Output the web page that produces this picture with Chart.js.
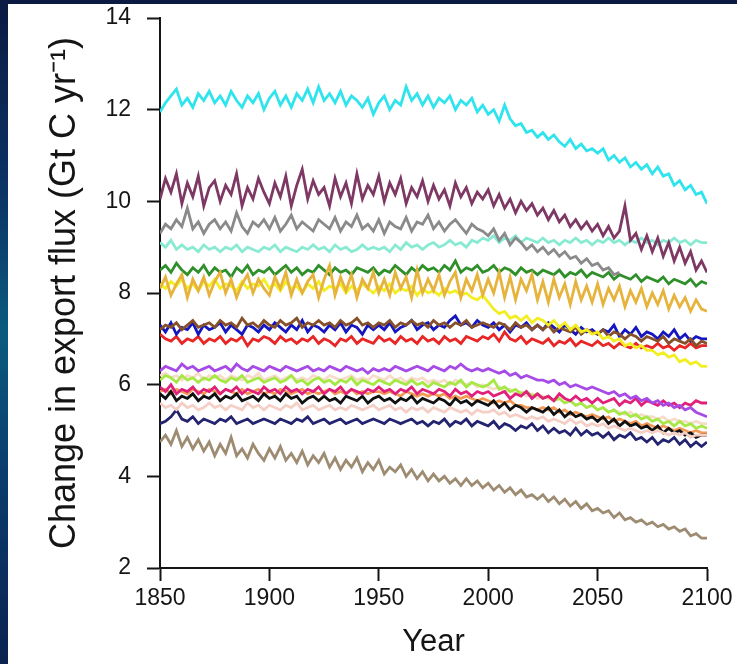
<!DOCTYPE html>
<html>
<head>
<meta charset="utf-8">
<script src="https://cdn.jsdelivr.net/npm/chart.js@4"></script>
<style>
  html, body { margin: 0; padding: 0; }
  body {
    width: 737px; height: 664px; overflow: hidden; position: relative;
    background: linear-gradient(to bottom, #0a1a42 0%, #0b3566 30%, #0b5b7e 50%, #0a3e6e 70%, #0a2250 100%);
  }
  #panel { position: absolute; left: 8px; top: 4px; width: 729px; height: 660px; background: #fff; }
</style>
</head>
<body>
<div id="panel"><canvas id="fluxChart" width="729" height="660"></canvas></div>
<script>
// one point every 2.5 years
const years = [
  1850, 1852.5, 1855, 1857.5, 1860, 1862.5, 1865, 1867.5, 1870, 1872.5,
  1875, 1877.5, 1880, 1882.5, 1885, 1887.5, 1890, 1892.5, 1895, 1897.5,
  1900, 1902.5, 1905, 1907.5, 1910, 1912.5, 1915, 1917.5, 1920, 1922.5,
  1925, 1927.5, 1930, 1932.5, 1935, 1937.5, 1940, 1942.5, 1945, 1947.5,
  1950, 1952.5, 1955, 1957.5, 1960, 1962.5, 1965, 1967.5, 1970, 1972.5,
  1975, 1977.5, 1980, 1982.5, 1985, 1987.5, 1990, 1992.5, 1995, 1997.5,
  2000, 2002.5, 2005, 2007.5, 2010, 2012.5, 2015, 2017.5, 2020, 2022.5,
  2025, 2027.5, 2030, 2032.5, 2035, 2037.5, 2040, 2042.5, 2045, 2047.5,
  2050, 2052.5, 2055, 2057.5, 2060, 2062.5, 2065, 2067.5, 2070, 2072.5,
  2075, 2077.5, 2080, 2082.5, 2085, 2087.5, 2090, 2092.5, 2095, 2097.5,
  2100];
const xTicks = [1850, 1900, 1950, 2000, 2050, 2100];
const yTicks = [2, 4, 6, 8, 10, 12, 14];

// export flux per model (Gt C / yr)
const cyan = [
  11.95, 12.15, 12.3, 12.45, 12.1, 12.25, 12.05, 12.35, 12.2, 12.4,
  12.15, 12.3, 12.1, 12.4, 12.2, 12.05, 12.3, 12.15, 12.35, 12.0,
  12.25, 12.4, 12.1, 12.3, 12.05, 12.35, 12.2, 12.45, 12.15, 12.5,
  12.2, 12.35, 12.15, 12.4, 12.1, 12.3, 12.2, 12.05, 12.25, 11.9,
  12.15, 12.3, 12.0, 12.2, 12.1, 12.5, 12.2, 12.35, 12.1, 12.3,
  12.05, 12.25, 12.15, 12.3, 12.0, 12.2, 12.1, 12.25, 11.95, 12.1,
  11.9, 12.0, 11.75, 12.1, 11.8, 11.65, 11.7, 11.5, 11.55, 11.4,
  11.5, 11.35, 11.45, 11.3, 11.2, 11.35, 11.15, 11.25, 11.1, 11.15,
  11.05, 11.15, 10.9, 11.0, 10.85, 10.95, 10.75, 10.85, 10.7, 10.8,
  10.6, 10.75, 10.55, 10.6, 10.35, 10.45, 10.25, 10.35, 10.15, 10.2,
  9.95];
const maroon = [
  10.05, 10.5, 10.2, 10.6, 9.95, 10.4, 10.1, 10.55, 9.9, 10.3,
  10.45, 10.0, 10.35, 10.15, 10.6, 9.9, 10.3, 10.05, 10.5, 10.2,
  9.95, 10.4, 10.1, 10.55, 9.9, 10.35, 10.7, 10.05, 10.45, 10.15,
  10.3, 9.9, 10.5, 10.1, 10.4, 9.95, 10.6, 10.05, 10.35, 10.15,
  10.55, 10.0, 10.4, 10.15, 10.5, 9.95, 10.3, 10.1, 10.45, 10.0,
  10.35, 10.05, 10.25, 9.9, 10.4, 10.1, 10.3, 9.95, 10.2, 10.05,
  10.25, 9.9, 10.15, 9.85, 10.05, 9.75, 10.0, 9.8, 9.95, 9.7,
  9.85, 9.6, 9.8, 9.55, 9.7, 9.45, 9.6, 9.4, 9.55, 9.35,
  9.5, 9.25, 9.45, 9.2, 9.35, 9.9, 9.15, 9.3, 8.95, 9.25,
  8.9, 9.2, 8.8, 9.1, 8.7, 9.0, 8.65, 8.9, 8.5, 8.7,
  8.45];
const grey = [
  9.3, 9.5, 9.4, 9.6, 9.45, 9.85, 9.4, 9.55, 9.3, 9.5,
  9.6, 9.4, 9.55, 9.35, 9.75, 9.45, 9.3, 9.55, 9.45, 9.6,
  9.4, 9.65, 9.35, 9.5, 9.7, 9.4, 9.55, 9.45, 9.35, 9.6,
  9.5, 9.4, 9.65, 9.35, 9.55, 9.45, 9.7, 9.4, 9.5, 9.35,
  9.6, 9.3, 9.55, 9.45, 9.4, 9.65, 9.35, 9.55, 9.5, 9.7,
  9.4, 9.55, 9.35, 9.5, 9.6, 9.45, 9.3, 9.5, 9.4, 9.35,
  9.25, 9.4, 9.15, 9.3, 9.05, 9.2, 9.1, 8.95, 9.05, 8.9,
  9.0, 8.85, 8.95, 8.8, 8.9, 8.75, 8.8, 8.65, 8.75, 8.6,
  8.65, 8.5, 8.55, 8.4, 8.45, null, null, null, null, null,
  null, null, null, null, null, null, null, null, null, null,
  null];
const aqua = [
  9.1, 9.0, 9.15, 8.95, 9.05, 8.95, 9.0, 8.9, 9.05, 8.95,
  9.0, 8.9, 9.0, 8.95, 9.05, 8.9, 9.0, 8.95, 8.9, 9.0,
  8.95, 9.05, 8.9, 9.0, 8.95, 8.9, 9.0, 8.95, 9.05, 8.95,
  9.0, 8.9, 9.05, 8.95, 9.0, 8.9, 8.95, 9.05, 8.95, 9.0,
  8.95, 9.0, 8.9, 9.05, 8.95, 9.1, 9.0, 9.05, 8.95, 9.05,
  9.1, 9.0, 9.05, 9.15, 9.05, 9.1, 9.0, 9.15, 9.1, 9.2,
  9.15, 9.25, 9.1, 9.2, 9.15, 9.25, 9.1, 9.2, 9.15, 9.1,
  9.2, 9.1, 9.15, 9.05, 9.15, 9.1, 9.2, 9.1, 9.15, 9.05,
  9.15, 9.1, 9.2, 9.1, 9.15, 9.05, 9.15, 9.1, 9.2, 9.1,
  9.15, 9.05, 9.15, 9.1, 9.2, 9.1, 9.15, 9.05, 9.15, 9.1,
  9.1];
const green = [
  8.5, 8.6, 8.45, 8.65, 8.5, 8.4, 8.55, 8.45, 8.6, 8.4,
  8.55, 8.45, 8.5, 8.35, 8.55, 8.45, 8.6, 8.4, 8.5, 8.45,
  8.55, 8.4, 8.5, 8.6, 8.45, 8.55, 8.4, 8.5, 8.45, 8.6,
  8.5, 8.4, 8.55, 8.45, 8.5, 8.4, 8.55, 8.5, 8.45, 8.55,
  8.4, 8.5, 8.45, 8.6, 8.5, 8.4, 8.55, 8.45, 8.6, 8.5,
  8.55, 8.45, 8.6, 8.5, 8.7, 8.45, 8.55, 8.5, 8.6, 8.45,
  8.5, 8.6, 8.45, 8.55, 8.5, 8.4, 8.55, 8.45, 8.5, 8.4,
  8.5, 8.45, 8.4, 8.5, 8.35, 8.45, 8.4, 8.5, 8.35, 8.45,
  8.4, 8.35, 8.45, 8.3, 8.4, 8.35, 8.3, 8.4, 8.25, 8.35,
  8.3, 8.25, 8.35, 8.2, 8.3, 8.25, 8.2, 8.3, 8.15, 8.25,
  8.2];
const gold = [
  8.1, 8.35, 7.95, 8.2, 8.4, 7.9, 8.3, 8.05, 8.35, 7.95,
  8.25, 8.45, 8.0, 8.3, 7.9, 8.2, 8.4, 8.0, 8.3, 8.1,
  7.95, 8.35, 8.1, 8.45, 7.95, 8.3, 8.0, 8.25, 8.4, 7.9,
  8.3, 8.6, 7.95, 8.35, 8.05, 8.4, 7.9, 8.3, 8.1, 8.45,
  8.0, 8.3, 7.95, 8.45, 8.1, 8.35, 7.9, 8.5, 8.0, 8.3,
  8.05, 8.4, 7.95, 8.25, 8.45, 7.9, 8.3, 8.05, 8.4, 7.95,
  8.3, 8.0, 8.45, 7.9, 8.35, 7.85, 8.3, 8.05, 8.4, 7.85,
  8.25, 7.8, 8.3, 7.9, 8.2, 7.75, 8.25, 7.85, 8.15, 7.8,
  8.2, 7.75, 8.1, 7.85, 8.15, 7.7, 8.05, 7.8, 8.1, 7.7,
  8.0, 7.75, 8.05, 7.65, 7.95, 7.7, 7.9, 7.6, 7.85, 7.65,
  7.6];
const yellow = [
  8.2, 8.1, 8.25, 8.15, 8.3, 8.1, 8.2, 8.05, 8.25, 8.15,
  8.3, 8.1, 8.2, 8.15, 8.05, 8.25, 8.1, 8.2, 8.15, 8.3,
  8.1, 8.2, 8.05, 8.25, 8.1, 8.15, 8.0, 8.2, 8.1, 8.25,
  8.05, 8.15, 8.1, 8.2, 8.0, 8.15, 8.05, 8.2, 8.1, 8.0,
  8.15, 8.05, 8.2, 8.0, 8.1, 8.05, 8.15, 7.95, 8.1, 8.0,
  8.05, 7.95, 8.1, 8.0, 8.05, 7.95, 8.0, 7.9, 7.85, 7.95,
  7.8, 7.65, 7.55, 7.6, 7.45, 7.5, 7.4, 7.5, 7.35, 7.45,
  7.4, 7.3, 7.4, 7.25, 7.35, 7.2, 7.3, 7.15, 7.2, 7.1,
  7.15, 7.0, 7.05, 6.95, 7.0, 6.85, 6.9, 6.8, 6.85, 6.75,
  6.75, 6.65, 6.7, 6.6, 6.65, 6.5, 6.55, 6.45, 6.5, 6.4,
  6.4];
const blue = [
  7.3, 7.15, 7.35, 7.1, 7.25, 7.2, 7.35, 7.1, 7.3, 7.2,
  7.25, 7.35, 7.15, 7.3, 7.2, 7.1, 7.3, 7.25, 7.15, 7.3,
  7.2, 7.35, 7.25, 7.15, 7.3, 7.2, 7.4, 7.15, 7.3, 7.25,
  7.15, 7.3, 7.2, 7.35, 7.15, 7.3, 7.25, 7.1, 7.3, 7.2,
  7.3, 7.2, 7.35, 7.15, 7.25, 7.3, 7.4, 7.2, 7.3, 7.35,
  7.2, 7.3, 7.25, 7.4, 7.5, 7.3, 7.35, 7.25, 7.4, 7.3,
  7.25, 7.35, 7.2, 7.3, 7.15, 7.3, 7.25, 7.35, 7.2, 7.3,
  7.2, 7.35, 7.25, 7.15, 7.3, 7.2, 7.1, 7.25, 7.15, 7.2,
  7.1, 7.2, 7.15, 7.3, 7.05, 7.2, 7.1, 7.25, 7.05, 7.15,
  7.1, 7.0, 7.15, 7.05, 7.2, 7.0, 7.1, 6.95, 7.05, 7.0,
  7.0];
const brown = [
  7.2, 7.3, 7.25, 7.35, 7.2, 7.3, 7.4, 7.25, 7.3, 7.35,
  7.25, 7.4, 7.3, 7.35, 7.25, 7.45, 7.3, 7.35, 7.25, 7.4,
  7.3, 7.25, 7.4, 7.3, 7.35, 7.45, 7.25, 7.35, 7.3, 7.4,
  7.3, 7.35, 7.25, 7.4, 7.3, 7.35, 7.45, 7.3, 7.35, 7.25,
  7.35, 7.3, 7.4, 7.25, 7.35, 7.3, 7.4, 7.3, 7.35, 7.25,
  7.4, 7.3, 7.35, 7.25, 7.35, 7.3, 7.4, 7.25, 7.3, 7.35,
  7.3, 7.25, 7.35, 7.3, 7.2, 7.35, 7.25, 7.3, 7.2, 7.3,
  7.2, 7.3, 7.15, 7.25, 7.2, 7.15, 7.25, 7.1, 7.2, 7.15,
  7.1, 7.2, 7.05, 7.15, 7.1, 7.0, 7.1, 7.05, 6.95, 7.05,
  7.0, 6.95, 7.05, 6.9, 7.0, 6.95, 6.9, 7.0, 6.85, 6.95,
  6.9];
const red = [
  7.1, 7.0, 6.95, 7.05, 6.9, 7.0, 6.95, 7.05, 6.9, 7.0,
  6.95, 7.05, 6.9, 7.0, 6.95, 7.05, 6.85, 7.0, 6.95, 7.05,
  7.0, 6.9, 7.05, 6.95, 7.0, 6.9, 7.0, 6.95, 7.05, 6.9,
  7.0, 6.95, 6.85, 7.0, 6.95, 7.05, 6.9, 7.0, 6.95, 6.9,
  7.05, 6.95, 7.0, 6.9, 7.05, 6.95, 7.0, 6.9, 7.05, 6.95,
  7.0, 6.9, 7.05, 6.95, 7.0, 6.9, 7.05, 7.0, 6.95, 7.05,
  7.0, 7.1, 6.95, 7.15, 7.0, 6.95, 7.05, 6.9, 7.0, 6.95,
  6.9, 7.0, 6.85, 6.95, 6.9, 7.0, 6.85, 6.95, 6.9, 6.85,
  6.95, 6.85, 6.9, 6.8, 6.9, 6.85, 6.8, 6.9, 6.8, 6.85,
  6.8, 6.9, 6.8, 6.85, 6.75, 6.85, 6.8, 6.9, 6.8, 6.85,
  6.85];
const purple = [
  6.3, 6.4, 6.35, 6.3, 6.45, 6.35, 6.4, 6.3, 6.35, 6.4,
  6.3, 6.35, 6.4, 6.3, 6.45, 6.35, 6.3, 6.4, 6.35, 6.3,
  6.4, 6.35, 6.3, 6.4, 6.35, 6.3, 6.35, 6.4, 6.3, 6.35,
  6.3, 6.4, 6.35, 6.3, 6.4, 6.35, 6.3, 6.35, 6.25, 6.35,
  6.3, 6.35, 6.3, 6.4, 6.35, 6.3, 6.35, 6.4, 6.35, 6.3,
  6.4, 6.35, 6.3, 6.4, 6.35, 6.45, 6.35, 6.3, 6.35, 6.3,
  6.35, 6.3, 6.25, 6.3, 6.2, 6.25, 6.15, 6.2, 6.15, 6.1,
  6.1, 6.05, 6.1, 6.0, 6.05, 5.95, 6.0, 5.95, 5.9, 5.95,
  5.9, 5.85, 5.8, 5.85, 5.75, 5.8, 5.7, 5.75, 5.65, 5.7,
  5.6, 5.65, 5.55, 5.6, 5.5, 5.55, 5.45, 5.5, 5.4, 5.35,
  5.3];
const limeGreen = [
  6.1, 6.2, 6.15, 6.05, 6.2, 6.1, 6.15, 6.05, 6.15, 6.1,
  6.2, 6.1, 6.05, 6.15, 6.1, 6.2, 6.05, 6.1, 6.15, 6.05,
  6.1, 6.15, 6.05, 6.1, 6.2, 6.05, 6.1, 6.0, 6.1, 6.15,
  6.05, 6.1, 6.0, 6.1, 6.05, 6.15, 6.0, 6.1, 6.05, 6.0,
  6.1, 6.05, 6.0, 6.1, 6.05, 6.0, 6.1, 6.0, 6.05, 5.95,
  6.05, 6.0, 5.95, 6.05, 6.0, 6.1, 5.95, 6.05, 6.0, 5.95,
  6.0, 6.1, 5.9, 5.95, 5.85, 5.9, 5.8, 5.85, 5.75, 5.8,
  5.7, 5.75, 5.65, 5.7, 5.6, 5.65, 5.55, 5.6, 5.5, 5.55,
  5.45, 5.5, 5.4, 5.45, 5.35, 5.4, 5.3, 5.35, 5.25, 5.3,
  5.2, 5.25, 5.15, 5.2, 5.1, 5.2, 5.1, 5.15, 5.05, 5.1,
  5.05];
const pink = [
  5.95, 5.85, 6.0, 5.8, 5.9, 5.85, 5.95, 5.8, 5.9, 5.85,
  5.95, 5.8, 5.9, 5.85, 5.95, 5.8, 5.9, 5.85, 5.8, 5.95,
  5.85, 5.9, 5.8, 5.95, 5.85, 5.9, 5.8, 5.9, 5.85, 5.95,
  5.8, 5.9, 5.85, 5.95, 5.8, 5.9, 5.85, 5.8, 5.9, 5.85,
  5.95, 5.85, 5.9, 5.8, 5.9, 5.85, 5.95, 5.8, 5.9, 5.85,
  5.8, 5.9, 5.85, 5.75, 5.9, 5.8, 5.85, 5.75, 5.85, 5.8,
  5.85, 5.75, 5.8, 5.85, 5.7, 5.8, 5.75, 5.85, 5.7, 5.8,
  5.7, 5.75, 5.65, 5.8, 5.7, 5.65, 5.75, 5.65, 5.7, 5.6,
  5.7, 5.6, 5.65, 5.7, 5.55, 5.65, 5.6, 5.7, 5.55, 5.65,
  5.6, 5.55, 5.65, 5.55, 5.6, 5.5, 5.6, 5.55, 5.65, 5.6,
  5.6];
const black = [
  5.8, 5.7, 5.85, 5.65, 5.75, 5.7, 5.8, 5.65, 5.75, 5.7,
  5.8, 5.65, 5.75, 5.7, 5.8, 5.65, 5.7, 5.75, 5.65, 5.8,
  5.7, 5.75, 5.65, 5.8, 5.7, 5.75, 5.6, 5.7, 5.75, 5.65,
  5.75, 5.65, 5.7, 5.6, 5.75, 5.7, 5.65, 5.75, 5.6, 5.7,
  5.75, 5.65, 5.7, 5.6, 5.7, 5.65, 5.75, 5.6, 5.7, 5.65,
  5.6, 5.7, 5.65, 5.55, 5.7, 5.6, 5.65, 5.55, 5.65, 5.6,
  5.55, 5.65, 5.5, 5.6, 5.45, 5.55, 5.5, 5.4, 5.5, 5.45,
  5.4, 5.5, 5.35, 5.45, 5.3, 5.4, 5.3, 5.35, 5.25, 5.3,
  5.2, 5.3, 5.15, 5.25, 5.1, 5.2, 5.1, 5.15, 5.05, 5.1,
  5.0, 5.1, 4.95, 5.05, 4.95, 5.0, 4.9, 4.95, 4.85, 4.9,
  4.9];
const palePink = [
  5.6, 5.5, 5.55, 5.45, 5.6, 5.5, 5.55, 5.45, 5.5, 5.6,
  5.5, 5.55, 5.45, 5.55, 5.5, 5.45, 5.6, 5.5, 5.55, 5.45,
  5.55, 5.5, 5.45, 5.55, 5.5, 5.6, 5.45, 5.5, 5.55, 5.45,
  5.5, 5.55, 5.45, 5.5, 5.45, 5.55, 5.5, 5.45, 5.5, 5.55,
  5.45, 5.5, 5.55, 5.45, 5.5, 5.4, 5.5, 5.45, 5.5, 5.4,
  5.5, 5.45, 5.4, 5.5, 5.45, 5.4, 5.45, 5.35, 5.45, 5.4,
  5.4, 5.45, 5.35, 5.4, 5.3, 5.35, 5.3, 5.25, 5.3, 5.25,
  5.3, 5.2, 5.25, 5.2, 5.15, 5.25, 5.15, 5.2, 5.1, 5.15,
  5.1, 5.15, 5.05, 5.1, 5.05, 5.0, 5.05, 5.0, 4.95, 5.0,
  4.95, 5.0, 4.95, 4.9, 4.95, 4.9, 4.95, 4.85, 4.9, 4.9,
  4.9];
const peach = [
  6.2, 6.25, 6.15, 6.2, 6.1, 6.2, 6.15, 6.25, 6.1, 6.2,
  6.15, 6.2, 6.1, 6.2, 6.15, 6.1, 6.2, 6.15, 6.25, 6.1,
  6.15, 6.2, 6.1, 6.15, 6.2, 6.1, 6.15, 6.1, 6.2, 6.15,
  6.1, 6.2, 6.15, 6.1, 6.15, 6.2, 6.1, 6.15, 6.1, 6.2,
  6.15, 6.1, 6.2, 6.1, 6.15, 6.05, 6.15, 6.1, 6.15, 6.05,
  6.1, 6.05, 6.1, 6.0, 6.1, 6.05, 6.0, 6.05, 5.95, 6.0,
  5.95, 5.9, 5.95, 5.85, 5.9, 5.8, 5.85, 5.75, 5.8, 5.7,
  5.75, 5.7, 5.65, 5.7, 5.6, 5.65, 5.55, 5.6, 5.5, 5.55,
  5.45, 5.5, 5.4, 5.45, 5.4, 5.35, 5.4, 5.3, 5.35, 5.3,
  5.3, 5.25, 5.3, 5.2, 5.25, 5.2, 5.2, 5.15, 5.2, 5.15,
  5.15];
const orange = [
  5.85, 5.9, 5.8, 5.9, 5.85, 5.8, 5.9, 5.85, 5.8, 5.9,
  5.85, 5.8, 5.9, 5.85, 5.8, 5.9, 5.8, 5.85, 5.9, 5.8,
  5.85, 5.8, 5.9, 5.85, 5.8, 5.85, 5.9, 5.8, 5.85, 5.8,
  5.85, 5.9, 5.8, 5.85, 5.8, 5.9, 5.8, 5.85, 5.8, 5.85,
  5.85, 5.8, 5.85, 5.8, 5.75, 5.85, 5.8, 5.75, 5.8, 5.75,
  5.8, 5.75, 5.8, 5.7, 5.75, 5.7, 5.75, 5.7, 5.65, 5.7,
  5.65, 5.6, 5.65, 5.6, 5.65, 5.55, 5.55, 5.5, 5.5, 5.45,
  5.5, 5.45, 5.5, 5.4, 5.45, 5.35, 5.4, 5.35, 5.3, 5.35,
  5.3, 5.25, 5.3, 5.2, 5.25, 5.2, 5.15, 5.2, 5.1, 5.15,
  5.1, 5.05, 5.1, 5.05, 5.0, 5.05, 5.0, 4.95, 5.0, 4.95,
  4.95];
const navy = [
  5.15, 5.2, 5.3, 5.45, 5.25, 5.2, 5.3, 5.15, 5.25, 5.2,
  5.15, 5.25, 5.2, 5.3, 5.15, 5.2, 5.25, 5.15, 5.2, 5.25,
  5.2, 5.15, 5.25, 5.2, 5.15, 5.25, 5.2, 5.3, 5.15, 5.2,
  5.25, 5.15, 5.2, 5.25, 5.15, 5.2, 5.25, 5.15, 5.2, 5.25,
  5.2, 5.15, 5.25, 5.2, 5.15, 5.2, 5.25, 5.15, 5.2, 5.1,
  5.2, 5.15, 5.25, 5.1, 5.2, 5.15, 5.25, 5.1, 5.2, 5.15,
  5.1, 5.2, 5.05, 5.15, 5.1, 5.0, 5.1, 5.05, 5.15, 5.0,
  5.1, 4.95, 5.05, 4.95, 5.0, 4.9, 5.05, 4.9, 5.0, 4.9,
  4.95, 4.85, 4.95, 4.8, 4.9, 4.85, 4.95, 4.8, 4.85, 4.75,
  4.85, 4.7, 4.8, 4.75, 4.85, 4.7, 4.8, 4.65, 4.75, 4.65,
  4.75];
const tan = [
  4.75, 4.9, 4.7, 5.0, 4.65, 4.85, 4.6, 4.8, 4.55, 4.75,
  4.45, 4.7, 4.5, 4.85, 4.45, 4.6, 4.4, 4.7, 4.5, 4.35,
  4.6, 4.4, 4.65, 4.35, 4.5, 4.3, 4.55, 4.25, 4.45, 4.3,
  4.5, 4.2, 4.4, 4.15, 4.35, 4.2, 4.4, 4.1, 4.3, 4.15,
  4.35, 4.05, 4.2, 4.1, 4.25, 4.0, 4.15, 3.95, 4.1, 3.9,
  4.05, 3.9, 4.0, 3.85, 3.95, 3.8, 3.95, 3.8, 3.9, 3.75,
  3.85, 3.7, 3.8, 3.65, 3.75, 3.6, 3.7, 3.55, 3.6, 3.5,
  3.6, 3.45, 3.55, 3.4, 3.5, 3.35, 3.45, 3.3, 3.4, 3.25,
  3.3, 3.2, 3.25, 3.1, 3.2, 3.05, 3.1, 3.0, 3.05, 2.95,
  3.0, 2.9, 2.95, 2.85, 2.9, 2.8, 2.85, 2.7, 2.75, 2.65,
  2.65];

// first entry is drawn on top
const series = [
  { name: 'gold', values: gold, color: '#e6b43c' },
  { name: 'cyan', values: cyan, color: '#2fe4ec' },
  { name: 'maroon', values: maroon, color: '#7d3863' },
  { name: 'grey', values: grey, color: '#8a8a8a' },
  { name: 'aqua', values: aqua, color: '#88ead3' },
  { name: 'green', values: green, color: '#2f8f2a' },
  { name: 'yellow', values: yellow, color: '#f3ee22' },
  { name: 'brown', values: brown, color: '#86502a' },
  { name: 'blue', values: blue, color: '#1616c0' },
  { name: 'red', values: red, color: '#e82626' },
  { name: 'purple', values: purple, color: '#a64be6' },
  { name: 'pink', values: pink, color: '#e0207a' },
  { name: 'palePink', values: palePink, color: '#f5cfc5' },
  { name: 'black', values: black, color: '#111111' },
  { name: 'limeGreen', values: limeGreen, color: '#a6e845' },
  { name: 'orange', values: orange, color: '#f29a55' },
  { name: 'peach', values: peach, color: '#f7dccb' },
  { name: 'navy', values: navy, color: '#232370' },
  { name: 'tan', values: tan, color: '#9e8c72' }
];

const fontFamily = '"Liberation Sans", Arial, Helvetica, sans-serif';
const ink = '#151515';

new Chart(document.getElementById('fluxChart'), {
  type: 'line',
  data: {
    datasets: series.map(s => ({
      label: s.name,
      data: years.map((yr, i) => ({ x: yr, y: s.values[i] })),
      borderColor: s.color,
      borderWidth: 2.8,
      pointRadius: 0,
      fill: false,
      tension: 0,
      spanGaps: false
    }))
  },
  options: {
    responsive: false,
    animation: false,
    layout: { padding: { top: 14, right: 30, left: 0, bottom: 0 } },
    plugins: { legend: { display: false }, tooltip: { enabled: false } },
    scales: {
      x: {
        type: 'linear',
        min: xTicks[0],
        max: xTicks[xTicks.length - 1],
        afterBuildTicks: scale => { scale.ticks = xTicks.map(v => ({ value: v })); },
        afterFit: scale => { scale.height = 96; },
        ticks: { color: ink, padding: 4, font: { family: fontFamily, size: 23 }, callback: v => String(v), maxRotation: 0 },
        grid: { drawOnChartArea: false, drawTicks: true, tickLength: 13, tickWidth: 2, color: ink },
        border: { display: true, color: ink, width: 2 },
        title: { display: true, text: 'Year', color: ink, font: { family: fontFamily, size: 31 }, padding: { top: 0, bottom: 3 } }
      },
      y: {
        min: yTicks[0],
        max: yTicks[yTicks.length - 1],
        afterBuildTicks: scale => { scale.ticks = yTicks.map(v => ({ value: v })); },
        // fixed width; drop the label padding so the plot top sits at layout padding
        afterFit: scale => { scale.width = 152; scale.paddingTop = 0; scale.paddingBottom = 0; },
        ticks: { color: ink, padding: 16, font: { family: fontFamily, size: 23 } },
        grid: { drawOnChartArea: false, drawTicks: true, tickLength: 13, tickWidth: 2, color: ink },
        border: { display: true, color: ink, width: 2 },
        title: { display: true, text: 'Change in export flux (Gt C yr\u207B\u00B9)', color: ink, font: { family: fontFamily, size: 36 }, padding: { top: 35, bottom: 0 } }
      }
    }
  }
});
</script>
</body>
</html>
